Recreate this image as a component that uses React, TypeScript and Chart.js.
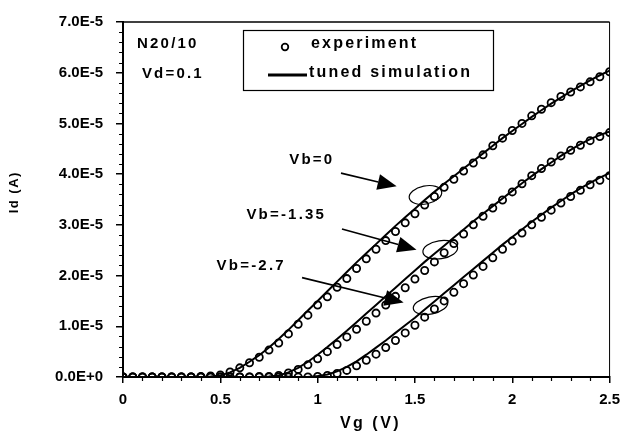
import React, { useEffect, useRef } from "react";
import { Chart, registerables } from "chart.js";

Chart.register(...registerables);

// Gate voltage (V), step 0.05
const vg = [
  0, 0.05, 0.1, 0.15, 0.2, 0.25, 0.3, 0.35, 0.4, 0.45,
  0.5, 0.55, 0.6, 0.65, 0.7, 0.75, 0.8, 0.85, 0.9, 0.95,
  1.0, 1.05, 1.1, 1.15, 1.2, 1.25, 1.3, 1.35, 1.4, 1.45,
  1.5, 1.55, 1.6, 1.65, 1.7, 1.75, 1.8, 1.85, 1.9, 1.95,
  2.0, 2.05, 2.1, 2.15, 2.2, 2.25, 2.3, 2.35, 2.4, 2.45, 2.5,
];

// Drain current in units of 1E-5 A
const expVb0 = [
  0, 0, 0, 0, 0, 0, 0, 0, 0.01, 0.02,
  0.04, 0.1, 0.18, 0.28, 0.39, 0.53, 0.67, 0.85, 1.04, 1.22,
  1.42, 1.58, 1.77, 1.94, 2.14, 2.33, 2.52, 2.69, 2.87, 3.04,
  3.22, 3.39, 3.56, 3.74, 3.9, 4.06, 4.22, 4.38, 4.56, 4.71,
  4.86, 5.0, 5.15, 5.28, 5.41, 5.53, 5.62, 5.72, 5.82, 5.92, 6.02,
];
const simVb0 = [
  0, 0, 0, 0, 0, 0, 0, 0, 0, 0.01,
  0.03, 0.09, 0.18, 0.3, 0.43, 0.58, 0.75, 0.93, 1.12, 1.31,
  1.5, 1.69, 1.88, 2.07, 2.26, 2.44, 2.62, 2.8, 2.98, 3.15,
  3.32, 3.49, 3.65, 3.81, 3.96, 4.11, 4.26, 4.41, 4.56, 4.71,
  4.85, 4.99, 5.13, 5.26, 5.39, 5.51, 5.63, 5.74, 5.85, 5.95, 6.04,
];
const expVbM135 = [
  0, 0, 0, 0, 0, 0, 0, 0, 0, 0,
  0, 0, 0, 0, 0.01, 0.01, 0.03, 0.08, 0.15, 0.24,
  0.36, 0.5, 0.64, 0.79, 0.94, 1.1, 1.26, 1.42, 1.59, 1.76,
  1.93, 2.1, 2.27, 2.45, 2.63, 2.82, 3.0, 3.17, 3.33, 3.49,
  3.65, 3.81, 3.97, 4.11, 4.24, 4.36, 4.47, 4.57, 4.66, 4.74, 4.82,
];
const simVbM135 = [
  0, 0, 0, 0, 0, 0, 0, 0, 0, 0,
  0, 0, 0, 0, 0, 0.01, 0.03, 0.09, 0.18, 0.3,
  0.44, 0.59, 0.75, 0.91, 1.08, 1.25, 1.42, 1.59, 1.76, 1.93,
  2.1, 2.27, 2.43, 2.59, 2.75, 2.91, 3.07, 3.22, 3.37, 3.52,
  3.67, 3.82, 3.96, 4.1, 4.23, 4.36, 4.48, 4.59, 4.69, 4.77, 4.84,
];
const expVbM27 = [
  0, 0, 0, 0, 0, 0, 0, 0, 0, 0,
  0, 0, 0, 0, 0, 0, 0, 0, 0, 0,
  0.01, 0.03, 0.07, 0.13, 0.22, 0.33, 0.45, 0.58, 0.72, 0.87,
  1.02, 1.18, 1.34, 1.5, 1.67, 1.84, 2.01, 2.18, 2.35, 2.52,
  2.68, 2.84, 3.0, 3.15, 3.29, 3.43, 3.56, 3.68, 3.79, 3.88, 3.97,
];
const simVbM27 = [
  0, 0, 0, 0, 0, 0, 0, 0, 0, 0,
  0, 0, 0, 0, 0, 0, 0, 0, 0, 0,
  0.02, 0.05, 0.11, 0.2, 0.31, 0.44, 0.58, 0.72, 0.87, 1.02,
  1.17, 1.33, 1.49, 1.65, 1.81, 1.97, 2.13, 2.29, 2.45, 2.61,
  2.76, 2.91, 3.06, 3.2, 3.34, 3.47, 3.6, 3.72, 3.83, 3.93, 4.02,
];

const yTickValues = [0, 1, 2, 3, 4, 5, 6, 7];
const xTickValues = [0, 0.5, 1, 1.5, 2, 2.5];

// Annotations (data coordinates)
const infoTexts = [
  { text: "N20/10", x: 0.072, y: 6.57 },
  { text: "Vd=0.1", x: 0.097, y: 5.98 },
];
const curveLabels = [
  { text: "Vb=0", x: 0.854, y: 4.29 },
  { text: "Vb=-1.35", x: 0.634, y: 3.2 },
  { text: "Vb=-2.7", x: 0.481, y: 2.2 },
];
const arrows = [
  { x1: 1.12, y1: 4.02, x2: 1.406, y2: 3.76 },
  { x1: 1.125, y1: 2.92, x2: 1.508, y2: 2.51 },
  { x1: 0.92, y1: 1.96, x2: 1.442, y2: 1.47 },
];
const ellipses = [
  { x: 1.554, y: 3.59, rx: 16.5, ry: 9, rot: -0.2 },
  { x: 1.63, y: 2.51, rx: 17.5, ry: 9, rot: -0.15 },
  { x: 1.58, y: 1.41, rx: 17.5, ry: 8.5, rot: -0.2 },
];

const FONT = '"Liberation Sans", Arial, Helvetica, sans-serif';

function drawText(
  ctx: CanvasRenderingContext2D,
  s: string,
  x: number,
  y: number,
  size: number,
  spacing: number,
  align: "left" | "center" = "left"
) {
  ctx.save();
  ctx.font = `bold ${size}px ${FONT}`;
  (ctx as any).letterSpacing = spacing + "px";
  ctx.fillStyle = "#000";
  ctx.textBaseline = "middle";
  ctx.textAlign = "left";
  let lx = x;
  if (align === "center") {
    const w = ctx.measureText(s).width - spacing;
    lx = x - w / 2;
  }
  ctx.fillText(s, lx, y);
  ctx.restore();
}

const decorPlugin = {
  id: "decor",
  afterDraw(chart: any) {
    const ctx: CanvasRenderingContext2D = chart.ctx;
    const xs = chart.scales.x;
    const ys = chart.scales.y;
    const { left, right, top, bottom } = chart.chartArea;
    const px = (v: number) => xs.getPixelForValue(v);
    const py = (v: number) => ys.getPixelForValue(v);

    ctx.save();
    ctx.strokeStyle = "#000";
    // top and right frame
    ctx.lineWidth = 1.5;
    ctx.beginPath();
    ctx.moveTo(left, top);
    ctx.lineTo(right, top);
    ctx.stroke();
    ctx.lineWidth = 1;
    ctx.beginPath();
    ctx.moveTo(right, top);
    ctx.lineTo(right, bottom);
    ctx.stroke();

    // minor ticks
    ctx.lineWidth = 1.2;
    ctx.beginPath();
    for (let i = 0; i <= 35; i++) {
      if (i % 5 === 0) continue;
      const y = Math.round(py(i * 0.2)) + 0.5;
      ctx.moveTo(left - 4, y);
      ctx.lineTo(left, y);
    }
    for (let i = 0; i <= 25; i++) {
      if (i % 5 === 0) continue;
      const x = Math.round(px(i * 0.1)) + 0.5;
      ctx.moveTo(x, bottom);
      ctx.lineTo(x, bottom + 4);
    }
    ctx.stroke();

    // ellipses
    ctx.lineWidth = 1.2;
    for (const e of ellipses) {
      ctx.beginPath();
      ctx.ellipse(px(e.x), py(e.y), e.rx, e.ry, e.rot, 0, Math.PI * 2);
      ctx.stroke();
    }

    // arrows
    for (const a of arrows) {
      const x1 = px(a.x1), y1 = py(a.y1), x2 = px(a.x2), y2 = py(a.y2);
      const ang = Math.atan2(y2 - y1, x2 - x1);
      const hl = 19, hw = 8;
      const bx = x2 - hl * Math.cos(ang);
      const by = y2 - hl * Math.sin(ang);
      ctx.lineWidth = 1.6;
      ctx.beginPath();
      ctx.moveTo(x1, y1);
      ctx.lineTo(bx, by);
      ctx.stroke();
      ctx.fillStyle = "#000";
      ctx.beginPath();
      ctx.moveTo(x2, y2);
      ctx.lineTo(bx + hw * Math.sin(ang), by - hw * Math.cos(ang));
      ctx.lineTo(bx - hw * Math.sin(ang), by + hw * Math.cos(ang));
      ctx.closePath();
      ctx.fill();
    }

    // legend box
    const lx0 = 243, ly0 = 30, lx1 = 493, ly1 = 90;
    ctx.lineWidth = 1.2;
    ctx.strokeRect(lx0 + 0.5, ly0 + 0.5, lx1 - lx0, ly1 - ly0);
    ctx.lineWidth = 1.8;
    ctx.beginPath();
    ctx.arc(285, 47, 3.3, 0, Math.PI * 2);
    ctx.stroke();
    ctx.lineWidth = 3;
    ctx.beginPath();
    ctx.moveTo(268, 75);
    ctx.lineTo(307, 75);
    ctx.stroke();
    ctx.restore();

    drawText(ctx, "experiment", 311, 44, 16, 2.2);
    drawText(ctx, "tuned simulation", 309, 73, 16, 2.2);

    for (const t of infoTexts) drawText(ctx, t.text, px(t.x), py(t.y), 15, 2.2);
    for (const t of curveLabels) drawText(ctx, t.text, px(t.x), py(t.y), 15, 2.2);

    // axis titles
    drawText(ctx, "Vg (V)", (left + right) / 2 + 3, 424, 16, 2.5, "center");
    ctx.save();
    ctx.translate(14, 193);
    ctx.rotate(-Math.PI / 2);
    drawText(ctx, "Id (A)", 0, 0, 13, 1.5, "center");
    ctx.restore();
  },
};

export default function App() {
  const ref = useRef<HTMLCanvasElement | null>(null);

  useEffect(() => {
    if (!ref.current) return;
    const toXY = (ys: number[]) => vg.map((x, i) => ({ x, y: ys[i] }));
    const expStyle = {
      showLine: false,
      pointStyle: "circle",
      pointRadius: 3.6,
      pointBorderWidth: 1.8,
      pointBorderColor: "#000",
      pointBackgroundColor: "rgba(0,0,0,0)",
      borderColor: "#000",
      order: 2,
    };
    const simStyle = {
      showLine: true,
      pointRadius: 0,
      borderColor: "#000",
      borderWidth: 2,
      tension: 0,
      order: 1,
    };
    const chart = new Chart(ref.current, {
      type: "scatter",
      data: {
        datasets: [
          { label: "experiment Vb=0", data: toXY(expVb0), ...expStyle },
          { label: "experiment Vb=-1.35", data: toXY(expVbM135), ...expStyle },
          { label: "experiment Vb=-2.7", data: toXY(expVbM27), ...expStyle },
          { label: "tuned simulation Vb=0", data: toXY(simVb0), ...simStyle },
          { label: "tuned simulation Vb=-1.35", data: toXY(simVbM135), ...simStyle },
          { label: "tuned simulation Vb=-2.7", data: toXY(simVbM27), ...simStyle },
        ] as any,
      },
      options: {
        animation: false,
        responsive: false,
        devicePixelRatio: 1,
        layout: { padding: { left: 0, right: 16, top: 20, bottom: 0 } },
        plugins: {
          legend: { display: false },
          tooltip: { enabled: false },
        },
        scales: {
          x: {
            type: "linear",
            min: 0,
            max: 2.5,
            afterFit: (s: any) => {
              s.height = 59;
            },
            afterBuildTicks: (s: any) => {
              s.ticks = xTickValues.map((v) => ({ value: v }));
            },
            ticks: {
              font: { family: FONT, size: 15, weight: "bold" },
              color: "#000",
              padding: 8,
              maxRotation: 0,
              callback: (v: any) => String(Number(Number(v).toFixed(1))),
            },
            grid: {
              display: true,
              drawOnChartArea: false,
              drawTicks: true,
              tickLength: 6,
              color: "#000",
              lineWidth: 1.5,
            },
            border: { display: true, color: "#000", width: 2 },
          },
          y: {
            type: "linear",
            min: 0,
            max: 7,
            afterFit: (s: any) => {
              s.width = 123;
            },
            afterBuildTicks: (s: any) => {
              s.ticks = yTickValues.map((v) => ({ value: v }));
            },
            ticks: {
              font: { family: FONT, size: 15, weight: "bold" },
              color: "#000",
              padding: 13,
              callback: (v: any) =>
                Number(v) === 0 ? "0.0E+0" : Number(v).toFixed(1) + "E-5",
            },
            grid: {
              display: true,
              drawOnChartArea: false,
              drawTicks: true,
              tickLength: 7,
              color: "#000",
              lineWidth: 1.5,
            },
            border: { display: true, color: "#000", width: 2 },
          },
        },
      } as any,
      plugins: [decorPlugin],
    });
    return () => chart.destroy();
  }, []);

  return (
    <div style={{ position: "absolute", left: 0, top: 0, width: 628, height: 436, background: "#fff" }}>
      <canvas ref={ref} width={628} height={436} />
    </div>
  );
}
